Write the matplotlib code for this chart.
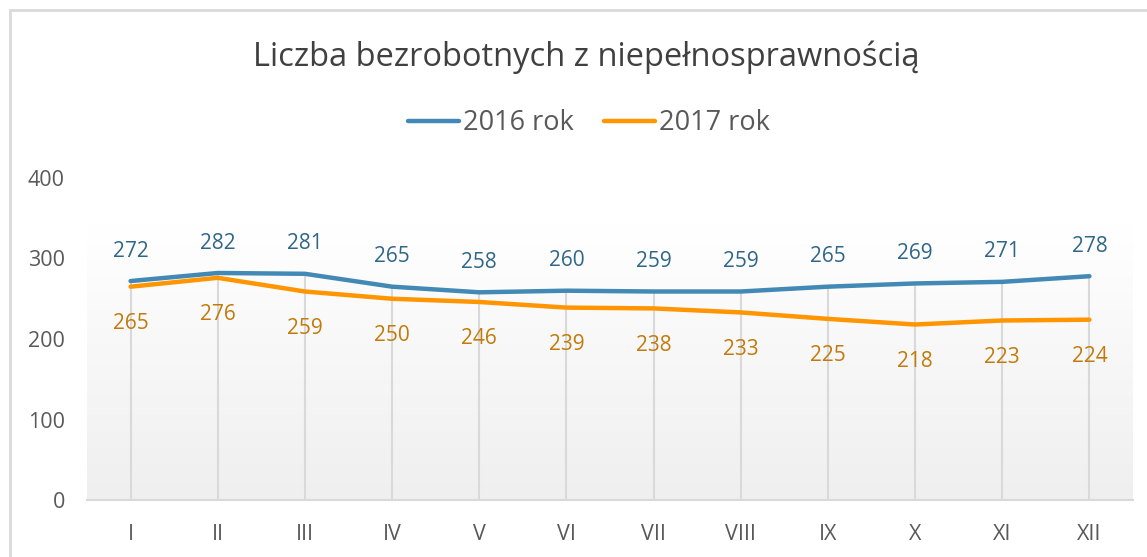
import matplotlib
matplotlib.use("Agg")
import matplotlib.pyplot as plt
import numpy as np
from matplotlib.patches import Rectangle
from matplotlib.colors import LinearSegmentedColormap

months = ["I", "II", "III", "IV", "V", "VI", "VII", "VIII", "IX", "X", "XI", "XII"]
y2016 = [272, 282, 281, 265, 258, 260, 259, 259, 265, 269, 271, 278]
y2017 = [265, 276, 259, 250, 246, 239, 238, 233, 225, 218, 223, 224]
series_names = ["2016 rok", "2017 rok"]
title = "Liczba bezrobotnych z niepełnosprawnością"
yticks = [0, 100, 200, 300, 400]

plt.rcParams['font.family'] = ['Open Sans', 'DejaVu Sans']

W, H = 1147, 557
fig = plt.figure(figsize=(W / 100, H / 100), dpi=100)
ax = fig.add_axes([87 / W, 1 - 500 / H, (1133 - 87) / W, (500 - 178) / H])

x = np.arange(len(months))
blue = "#4389B5"
orange = "#FF9500"
blue_txt = "#2F6688"
orange_txt = "#C27A0A"

# gradient background
grad = np.linspace(0, 1, 256).reshape(-1, 1)
cmap = LinearSegmentedColormap.from_list("g", ["#EFEFEF", "#FFFFFF"])
ax.imshow(grad, extent=(-0.5, 11.5, 0, 342), origin="lower", aspect="auto",
          cmap=cmap, zorder=0)

# drop lines
for xi, v in zip(x, y2016):
    ax.plot([xi, xi], [0, max(v, y2017[xi])], color="#D9D9D9", lw=1.5, zorder=1)

ax.plot(x, y2016, color=blue, lw=3.2, solid_capstyle="round", solid_joinstyle="round",
        label=series_names[0], zorder=3)
ax.plot(x, y2017, color=orange, lw=3.2, solid_capstyle="round", solid_joinstyle="round",
        label=series_names[1], zorder=3)

for xi, v in zip(x, y2016):
    ax.annotate(str(v), (xi, v), xytext=(0, 21.5), textcoords="offset points",
                ha="center", va="center", fontsize=15, color=blue_txt)
for xi, v in zip(x, y2017):
    ax.annotate(str(v), (xi, v), xytext=(0, -26.5), textcoords="offset points",
                ha="center", va="center", fontsize=15, color=orange_txt)

ax.set_xlim(-0.5, 11.5)
ax.set_ylim(0, 400)
ax.set_yticks(yticks)
ax.set_xticks(x)
ax.set_xticklabels(months)
ax.tick_params(axis="both", length=0, labelsize=15.5, colors="#595959")
ax.tick_params(axis="x", pad=17)
ax.tick_params(axis="y", pad=16)
for s in ["top", "right", "left"]:
    ax.spines[s].set_visible(False)
ax.spines["bottom"].set_color("#D9D9D9")
ax.spines["bottom"].set_linewidth(1.5)
ax.patch.set_alpha(0)

fig.text(586 / W, 1 - 57 / H, title, ha="center", va="center", fontsize=23.5, color="#404040")
leg = fig.legend(loc="center", bbox_to_anchor=(589 / W, 1 - 123 / H), ncol=2, frameon=False,
                 fontsize=19.5, handlelength=1.9, handletextpad=0.15, columnspacing=1.1)
for t in leg.get_texts():
    t.set_color("#595959")

# outer border
fig.patches.append(Rectangle((10 / W, -0.1), 1.2, 1 - 10 / H + 0.1, transform=fig.transFigure,
                             fill=False, edgecolor="#D9D9D9", lw=2))

fig.savefig("out.png", dpi=100)
